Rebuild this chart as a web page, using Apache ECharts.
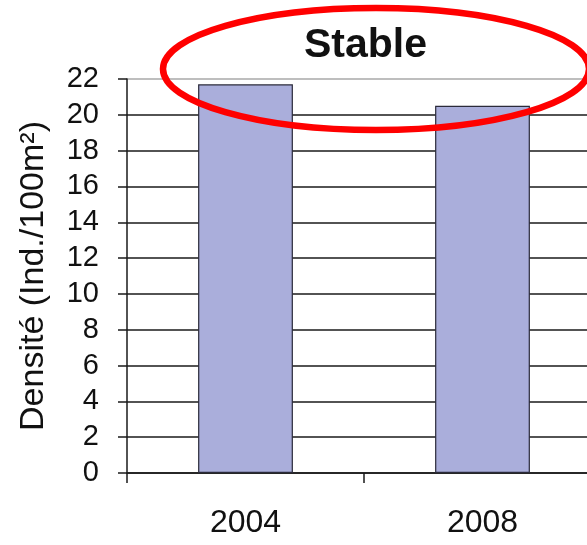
<!DOCTYPE html>
<html>
<head>
<meta charset="utf-8">
<script src="https://cdn.jsdelivr.net/npm/echarts@6/dist/echarts.min.js"></script>
<style>
  html, body { margin: 0; padding: 0; background: #fff; }
  #chart { width: 587px; height: 545px; }
</style>
</head>
<body>
<div id="chart"></div>
<script>
// Density per survey year
const years = ['2004', '2008'];
const density = [21.7, 20.5];
const yTicks = { min: 0, max: 22, step: 2 };
const titleText = 'Stable';
const yAxisTitle = 'Densité (Ind./100m²)';

const FONT = '"Liberation Sans", Arial, sans-serif';

// gridlines: black, except the top border of the plot which is grey
const nLines = (yTicks.max - yTicks.min) / yTicks.step + 1;
const gridColors = [];
for (let i = 0; i < nLines; i++) gridColors.push(i === nLines - 1 ? '#a8a8a8' : '#1a1a1a');

const chart = echarts.init(document.getElementById('chart'), null, { renderer: 'canvas' });
chart.setOption({
  animation: false,
  backgroundColor: '#ffffff',
  // plot area runs past the right edge of the canvas
  grid: { left: 127, width: 474, top: 79, bottom: 72, containLabel: false, outerBoundsMode: 'none' },
  xAxis: {
    type: 'category',
    data: years,
    boundaryGap: true,
    axisLine: { show: true, lineStyle: { color: '#1a1a1a', width: 1.5 } },
    axisTick: { show: true, length: 10, alignWithLabel: false, lineStyle: { color: '#1a1a1a', width: 1.5 } },
    axisLabel: { margin: 34, fontFamily: FONT, fontSize: 32, color: '#111' },
    splitLine: { show: false }
  },
  yAxis: {
    type: 'value',
    min: yTicks.min,
    max: yTicks.max,
    interval: yTicks.step,
    name: yAxisTitle,
    nameLocation: 'middle',
    nameRotate: 90,
    nameGap: 76,
    nameTextStyle: { fontFamily: FONT, fontSize: 34, color: '#111' },
    axisLine: { show: true, lineStyle: { color: '#1a1a1a', width: 1.5 } },
    axisTick: { show: true, length: 9, inside: false, lineStyle: { color: '#1a1a1a', width: 1.5 } },
    axisLabel: { margin: 28, fontFamily: FONT, fontSize: 29, color: '#111' },
    splitLine: { show: true, lineStyle: { color: gridColors, width: 1.5 } }
  },
  series: [{
    type: 'bar',
    data: density,
    barWidth: '40%',
    itemStyle: { color: '#aaaedb', borderColor: '#2a2a3a', borderWidth: 1.2 },
    z: 3
  }],
  graphic: [
    {
      type: 'text',
      left: 304,
      top: 25,
      style: { text: titleText, fontFamily: FONT, fontSize: 41, fontWeight: 'bold', fill: '#111' },
      z: 10
    },
    {
      type: 'ellipse',
      shape: { cx: 376, cy: 69, rx: 213, ry: 61 },
      style: { fill: 'none', stroke: '#ff0000', lineWidth: 6.5 },
      z: 20
    }
  ]
});
</script>
</body>
</html>
